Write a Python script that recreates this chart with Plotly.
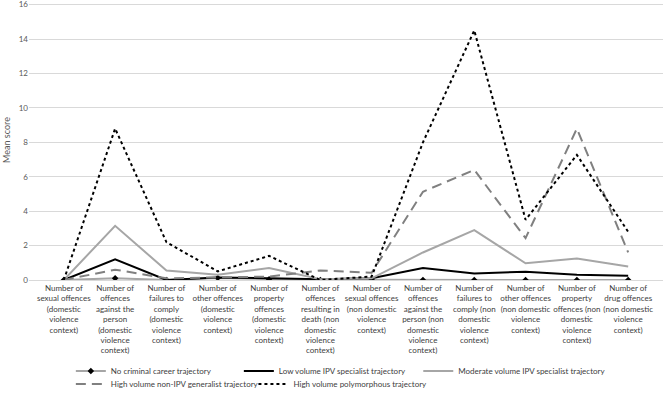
import plotly.graph_objects as go

categories = [
    "Number of<br>sexual offences<br>(domestic<br>violence<br>context)",
    "Number of<br>offences<br>against the<br>person<br>(domestic<br>violence<br>context)",
    "Number of<br>failures to<br>comply<br>(domestic<br>violence<br>context)",
    "Number of<br>other offences<br>(domestic<br>violence<br>context)",
    "Number of<br>property<br>offences<br>(domestic<br>violence<br>context)",
    "Number of<br>offences<br>resulting in<br>death (non<br>domestic<br>violence<br>context)",
    "Number of<br>sexual offences<br>(non domestic<br>violence<br>context)",
    "Number of<br>offences<br>against the<br>person (non<br>domestic<br>violence<br>context)",
    "Number of<br>failures to<br>comply (non<br>domestic<br>violence<br>context)",
    "Number of<br>other offences<br>(non domestic<br>violence<br>context)",
    "Number of<br>property<br>offences (non<br>domestic<br>violence<br>context)",
    "Number of<br>drug offences<br>(non domestic<br>violence<br>context)",
]

no_criminal = [0.0, 0.1, 0.0, 0.12, 0.05, 0.0, 0.02, 0.0, 0.0, 0.0, 0.0, 0.0]
low_volume = [0.0, 1.2, 0.0, 0.15, 0.1, 0.05, 0.1, 0.7, 0.38, 0.48, 0.3, 0.25]
moderate_volume = [0.0, 3.15, 0.55, 0.3, 0.7, 0.05, 0.1, 1.6, 2.9, 0.97, 1.25, 0.78]
high_non_ipv = [0.0, 0.6, 0.1, 0.15, 0.2, 0.55, 0.42, 5.13, 6.4, 2.43, 8.8, 1.6]
high_polymorphous = [0.0, 8.8, 2.2, 0.5, 1.4, 0.0, 0.2, 8.0, 14.5, 3.5, 7.27, 2.8]

y_ticks = [0, 2, 4, 6, 8, 10, 12, 14, 16]

fig = go.Figure()
fig.add_trace(go.Scatter(
    x=categories, y=no_criminal, name="No criminal career trajectory",
    mode="lines+markers", legend="legend",
    line=dict(color="#a6a6a6", width=2),
    marker=dict(symbol="diamond", size=5, color="#000000"),
))
fig.add_trace(go.Scatter(
    x=categories, y=low_volume, name="Low volume IPV specialist trajectory",
    mode="lines", legend="legend2", line=dict(color="#000000", width=2),
))
fig.add_trace(go.Scatter(
    x=categories, y=moderate_volume, name="Moderate volume IPV specialist trajectory",
    mode="lines", legend="legend3", line=dict(color="#a6a6a6", width=2),
))
fig.add_trace(go.Scatter(
    x=categories, y=high_non_ipv, name="High volume non-IPV generalist trajectory",
    mode="lines", legend="legend4",
    line=dict(color="#808080", width=2, dash="10px,6px"),
))
fig.add_trace(go.Scatter(
    x=categories, y=high_polymorphous, name="High volume polymorphous trajectory",
    mode="lines", legend="legend5", line=dict(color="#000000", width=2, dash="dot"),
))

def leg(x, y):
    return dict(
        orientation="h", x=x, y=y, xanchor="left", yanchor="middle",
        font=dict(size=8, color="#404040"), itemwidth=30,
        bgcolor="rgba(0,0,0,0)",
    )

fig.update_layout(
    width=664, height=393,
    margin=dict(l=29, r=1, t=0, b=113, autoexpand=False),
    paper_bgcolor="white", plot_bgcolor="white",
    font=dict(family="Lato, Open Sans, sans-serif", size=8, color="#404040"),
    showlegend=True,
    legend=leg(0.066, -0.325),
    legend2=leg(0.331, -0.325),
    legend3=leg(0.614, -0.325),
    legend4=leg(0.066, -0.371),
    legend5=leg(0.354, -0.371),
)
fig.update_xaxes(
    type="category", showgrid=False, showline=False, zeroline=False,
    tickfont=dict(size=8, color="#404040"), ticks="", tickangle=0,
    ticklabelstandoff=2, ticklabeloverflow="allow",
)
fig.update_yaxes(
    range=[0, 16.27], tickvals=y_ticks, showgrid=True, gridcolor="#d9d9d9",
    gridwidth=1, zeroline=True, zerolinecolor="#d9d9d9", zerolinewidth=1,
    showline=False, tickfont=dict(size=8, color="#595959"),
    ticklabeloverflow="allow",
    title=dict(text="Mean score", font=dict(size=9, color="#595959"), standoff=6),
)

fig.write_html("out.html")
